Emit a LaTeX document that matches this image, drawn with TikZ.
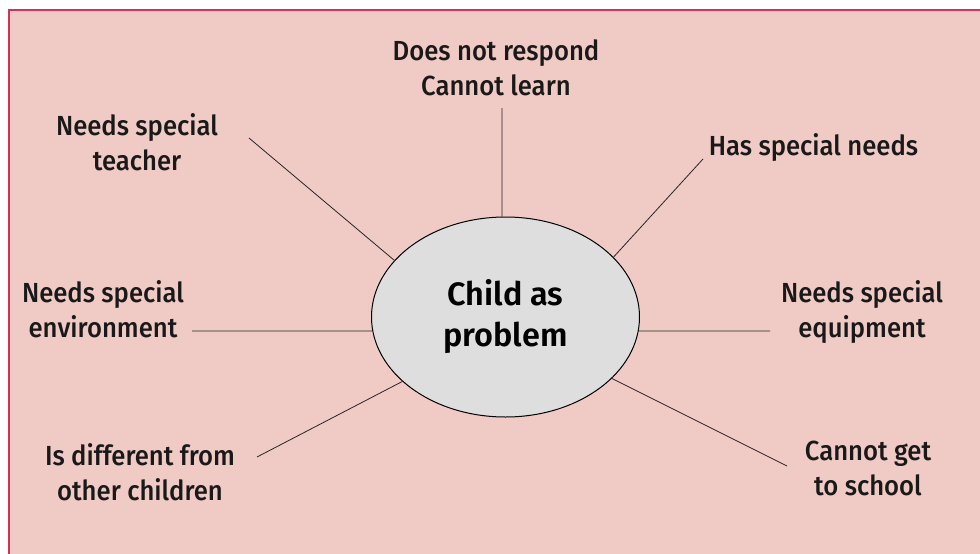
\documentclass[tikz,border=0pt]{standalone}
\usepackage{fontspec}
\setmainfont{Fira Sans}
\newfontfamily\tagfont[FakeStretch=0.93]{Fira Sans Medium}
\newfontfamily\hubfont{Fira Sans SemiBold}
\usetikzlibrary{shapes.geometric}

\definecolor{sheet}{RGB}{240,202,196}
\definecolor{frame}{RGB}{208,52,90}
\definecolor{hubgray}{RGB}{222,222,222}

\begin{document}
\begin{tikzpicture}[
    x = 1pt,
    y = -1pt,
    spoke/.style = {
      draw = black!85,
      line width = 0.8pt
    },
    tag/.style = {
      align = center,
      inner sep = 0pt,
      text = black!90,
      font = \tagfont\fontsize{27.6}{35}\selectfont
    },
    hub/.style = {
      ellipse,
      draw,
      fill = hubgray,
      line width = 1pt,
      inner sep = 0pt,
      minimum width = 268pt,
      minimum height = 200pt,
      align = center,
      font = \hubfont\fontsize{32.4}{41}\selectfont
    }
  ]
  \useasboundingbox (0,0) rectangle (980,554);

  \fill[sheet] (9,10) rectangle (980,554);
  \draw[frame, line width=1.5pt] (9,554) -- (9,10) -- (980,10);

  \node[hub] (child) at (505.5,317) {Child as\\problem};

  \node[tag] (respond) at (496,68) {Does not respond\\Cannot learn};
  \node[tag] (teacher) at (137,142.5) {Needs special\\teacher};
  \node[tag] (needs) at (813.5,147.5) {Has special needs};
  \node[tag] (environ) at (103,309.5) {Needs special\\environment};
  \node[tag] (equip) at (862,312.5) {Needs special\\equipment};
  \node[tag] (differ) at (140,472.5) {Is different from\\other children};
  \node[tag] (school) at (868,468) {Cannot get\\to school};

  \coordinate (respondEnd) at (502,108);
  \coordinate (teacherEnd) at (249,138);
  \coordinate (needsEnd) at (703,159);
  \coordinate (environEnd) at (192,331);
  \coordinate (equipEnd) at (770,331);
  \coordinate (differEnd) at (257,457);
  \coordinate (schoolEnd) at (787,466);

  \draw[spoke] (child.92) -- (respondEnd);
  \draw[spoke] (child.153) -- (teacherEnd);
  \draw[spoke] (child.29) -- (needsEnd);
  \draw[spoke] (child.186) -- (environEnd);
  \draw[spoke] (child.354) -- (equipEnd);
  \draw[spoke] (child.212.6) -- (differEnd);
  \draw[spoke] (child.330) -- (schoolEnd);

\end{tikzpicture}
\end{document}
